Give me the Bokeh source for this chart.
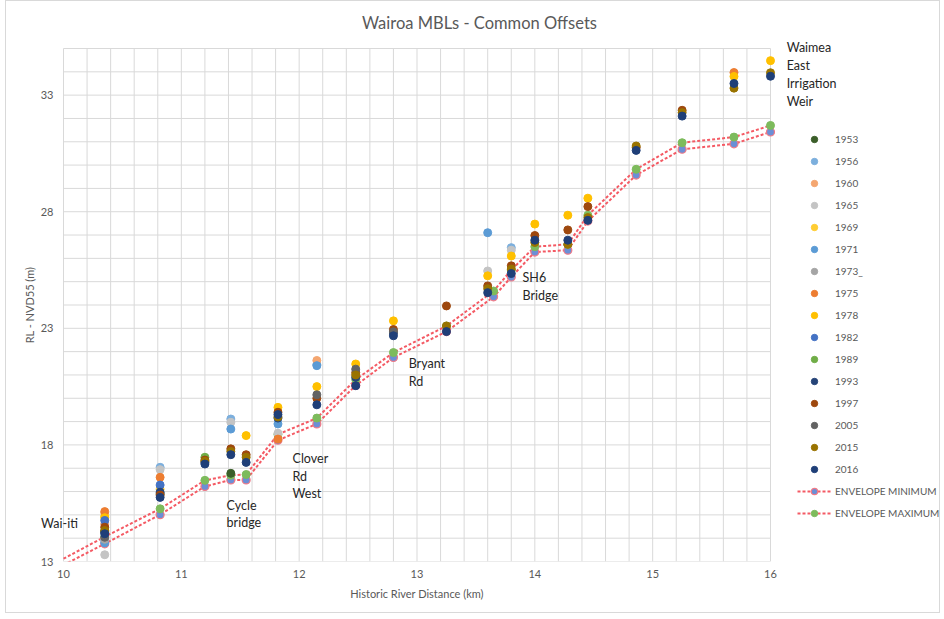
from bokeh.plotting import figure
from bokeh.models import (FixedTicker, Label, Legend, LegendItem, ColumnDataSource,
                          LinearAxis, Range1d)
from bokeh.embed import file_html
from bokeh.resources import INLINE

# Survey stations (historic river distance, km)
stations = [10.35, 10.82, 11.2, 11.42, 11.55, 11.82, 12.15, 12.48, 12.8, 13.25,
            13.6, 13.8, 14.0, 14.28, 14.45, 14.86, 15.25, 15.69, 16.0]

# Mean bed levels (m, NVD55) per survey year, aligned with stations; None = not surveyed
y1953 = [14.30, 15.90, None, 16.78, None, None, None, None, None, None,
         None, None, None, None, None, None, None, None, None]
y1956 = [13.90, 17.04, None, 19.11, None, None, 21.45, None, None, None,
         None, 26.46, None, None, None, None, None, None, None]
y1960 = [14.60, None, None, None, None, None, 21.62, None, None, None,
         None, None, None, None, None, None, None, None, None]
y1965 = [13.29, 16.94, None, 18.97, None, 18.50, None, None, None, None,
         25.46, 26.35, None, None, None, None, None, None, None]
y1969 = [14.95, 16.10, None, None, None, None, None, None, None, None,
         None, None, None, None, None, None, None, None, None]
y1971 = [13.80, None, None, 18.68, None, 18.90, 21.40, None, None, None,
         27.10, None, None, None, None, None, None, None, None]
y1973 = [13.95, None, None, None, None, None, None, None, None, None,
         None, None, None, None, None, None, None, None, None]
y1975 = [15.14, 16.61, None, None, None, 18.25, None, None, None, None,
         None, None, None, None, None, None, None, 33.97, None]
y1978 = [14.88, None, None, None, 18.40, 19.61, 20.50, 21.47, 23.32, None,
         25.25, 26.10, 27.47, 27.85, 28.58, None, None, 33.80, 34.48]
y1982 = [14.76, 16.28, None, None, None, None, None, None, None, None,
         None, None, None, None, None, None, None, None, None]
y1989 = [None, None, 17.47, None, None, None, None, None, None, None,
         None, None, None, None, None, None, None, None, None]
y1993 = [14.25, 15.97, 17.25, None, None, 19.15, None, 20.90, 22.80, None,
         None, None, None, None, None, None, None, None, None]
y1997 = [14.47, 15.85, 17.35, 17.83, 17.58, 19.40, 20.00, 21.10, 22.95, 23.96,
         24.82, 25.68, 26.98, 27.22, 28.22, 30.75, 32.35, None, None]
y2005 = [14.04, None, None, None, None, None, 20.15, 21.25, 22.85, None,
         None, None, None, None, None, None, None, None, None]
y2015 = [14.33, None, 17.30, 17.72, 17.47, 19.20, None, 21.00, None, 23.10,
         24.70, 25.54, 26.68, 26.60, 27.75, 30.82, 32.25, 33.30, 33.96]
y2016 = [14.19, 15.75, 17.18, 17.58, 17.25, 19.30, 19.72, 20.54, 22.68, 22.86,
         24.53, 25.35, 26.78, 26.78, 27.63, 30.63, 32.10, 33.50, 33.81]

years = ["1953", "1956", "1960", "1965", "1969", "1971", "1973_", "1975",
         "1978", "1982", "1989", "1993", "1997", "2005", "2015", "2016"]
year_colors = ["#3b5e29", "#7cafdd", "#f4a670", "#c4c4c4", "#ffcd33", "#5b9bd5",
               "#a5a5a5", "#ed7d31", "#ffc000", "#4472c4", "#70ad47", "#264478",
               "#9e480e", "#636363", "#997300", "#1f3f78"]
year_series = [y1953, y1956, y1960, y1965, y1969, y1971, y1973, y1975,
               y1978, y1982, y1989, y1993, y1997, y2005, y2015, y2016]

# Envelope of the common offsets
env_x = [10.0, 10.35, 10.82, 11.2, 11.42, 11.55, 11.82, 12.15, 12.48, 12.8, 13.25,
         13.65, 13.8, 14.0, 14.28, 14.45, 14.86, 15.25, 15.69, 16.0]
env_min = [12.85, 13.76, 15.01, 16.22, 16.50, 16.50, 18.20, 18.90, 20.55, 21.75, 22.86,
           24.35, 25.20, 26.27, 26.35, 27.60, 29.57, 30.68, 30.91, 31.42]
env_max = [13.12, 14.06, 15.26, 16.48, 16.70, 16.73, 18.45, 19.15, 20.80, 21.96, 23.10,
           24.60, 25.50, 26.50, 26.60, 27.85, 29.82, 30.96, 31.20, 31.70]

x_ticks = [10, 11, 12, 13, 14, 15, 16]
y_ticks = [13, 18, 23, 28, 33]
X_MIN, X_MAX = 10, 16
Y_MIN, Y_MAX = 13, 35

FONT = "Lato"
GREY_TEXT = "#595959"
GRID = "#d9d9d9"

# The plotting region reaches out to the chart edges so the title, legend and
# site notes can sit beside the gridded plot area; the axes are bounded to it.
p = figure(width=935, height=613,
           x_range=Range1d(9.8048, 17.4512), y_range=Range1d(13, 37.0156),
           output_backend="svg", toolbar_location=None, y_axis_location=None,
           min_border_left=34, min_border_right=0, min_border_top=0,
           min_border_bottom=53, margin=(0, 0, 0, 5))
p.styles = {"border": "1px solid #d9d9d9"}
p.outline_line_color = None
p.background_fill_color = "white"
p.border_fill_color = "white"
p.xgrid.visible = False
p.ygrid.visible = False

xaxis = p.xaxis[0]
yaxis = LinearAxis()
p.add_layout(yaxis, "left")

# Axis titles are centred on the gridded area, so each is drawn as the single
# tick label of an outer axis placed at the middle of that area.
xtitle_axis = LinearAxis(ticker=FixedTicker(ticks=[13]),
                         major_label_overrides={13: "Historic River Distance (km)"})
ytitle_axis = LinearAxis(ticker=FixedTicker(ticks=[24]),
                         major_label_overrides={24: "RL - NVD55 (m)"},
                         major_label_orientation="vertical")
p.add_layout(xtitle_axis, "below")
p.add_layout(ytitle_axis, "left")

xaxis.ticker = FixedTicker(ticks=x_ticks)
yaxis.ticker = FixedTicker(ticks=y_ticks)
xaxis.bounds = (X_MIN, X_MAX)
yaxis.bounds = (Y_MIN, Y_MAX)

for ax in (xaxis, yaxis, xtitle_axis, ytitle_axis):
    ax.axis_line_color = None
    ax.major_tick_line_color = None
    ax.minor_tick_line_color = None
    ax.major_tick_out = 0
    ax.major_tick_in = 0
    ax.minor_tick_out = 0
    ax.minor_tick_in = 0
    ax.major_label_text_font = FONT
    ax.major_label_text_font_size = "11px"
    ax.major_label_text_color = GREY_TEXT

xaxis.major_label_standoff = 8
xtitle_axis.major_label_standoff = 6
yaxis.major_label_standoff = -13
ytitle_axis.major_label_standoff = 1

# Gridlines of the plot area: every 0.2 km and every metre
grid_x = [round(X_MIN + 0.2 * i, 1) for i in range(31)]
grid_y = list(range(Y_MIN, Y_MAX + 1))
p.segment(x0=grid_x, y0=[Y_MIN] * len(grid_x), x1=grid_x, y1=[Y_MAX] * len(grid_x),
          line_color=GRID, line_width=1)
p.segment(x0=[X_MIN] * len(grid_y), y0=grid_y, x1=[X_MAX] * len(grid_y), y1=grid_y,
          line_color=GRID, line_width=1)

# Envelope lines with markers
RED = "#f45a64"
env_min_line = p.line(env_x, env_min, line_color=RED, line_width=2, line_dash="3 2")
env_max_line = p.line(env_x, env_max, line_color=RED, line_width=2, line_dash="3 2")
env_min_pts = p.scatter(env_x[1:], env_min[1:], size=8, fill_color="#6b8fd6",
                        line_color="#f27a86", line_width=1.2)
env_max_pts = p.scatter(env_x[1:], env_max[1:], size=8, fill_color="#7dbb5c",
                        line_color="#7dbb5c", line_width=1)

# Survey years
legend_items = []
for name, col, vals in zip(years, year_colors, year_series):
    xs = [s for s, v in zip(stations, vals) if v is not None]
    ys = [v for v in vals if v is not None]
    src = ColumnDataSource(dict(x=xs, y=ys))
    r = p.scatter("x", "y", source=src, size=8, fill_color=col, line_color=col)
    legend_items.append(LegendItem(label=name, renderers=[r]))
legend_items.append(LegendItem(label="ENVELOPE MINIMUM", renderers=[env_min_line, env_min_pts]))
legend_items.append(LegendItem(label="ENVELOPE MAXIMUM", renderers=[env_max_line, env_max_pts]))

legend = Legend(items=legend_items, location=(757, 40), orientation="vertical",
                glyph_width=34, glyph_height=16, label_height=16, spacing=6,
                label_standoff=4, padding=0, margin=0,
                border_line_color=None, background_fill_alpha=0,
                label_text_font=FONT, label_text_font_size="10px",
                label_text_color=GREY_TEXT)
p.add_layout(legend, "center")

# Chart title
p.add_layout(Label(x=13.53, y=36.115, text="Wairoa MBLs - Common Offsets",
                   text_align="center", text_baseline="middle", text_font=FONT,
                   text_font_size="16.5px", text_color=GREY_TEXT))

# Site annotations
site_lines = [
    (9.81, 14.63, "Wai-iti"),
    (11.384, 15.40, "Cycle"), (11.384, 14.68, "bridge"),
    (11.944, 17.41, "Clover"), (11.944, 16.64, "Rd"), (11.944, 15.91, "West"),
    (12.929, 21.48, "Bryant"), (12.929, 20.71, "Rd"),
    (13.896, 25.16, "SH6"), (13.896, 24.39, "Bridge"),
    (16.137, 35.06, "Waimea"), (16.137, 34.29, "East"),
    (16.137, 33.51, "Irrigation"), (16.137, 32.74, "Weir"),
]
for lx, ly, txt in site_lines:
    p.add_layout(Label(x=lx, y=ly, text=txt, text_align="left", text_baseline="middle",
                       text_font=FONT, text_font_size="12.5px", text_color="#262626"))

open("out.html", "w").write(file_html(p, INLINE))
